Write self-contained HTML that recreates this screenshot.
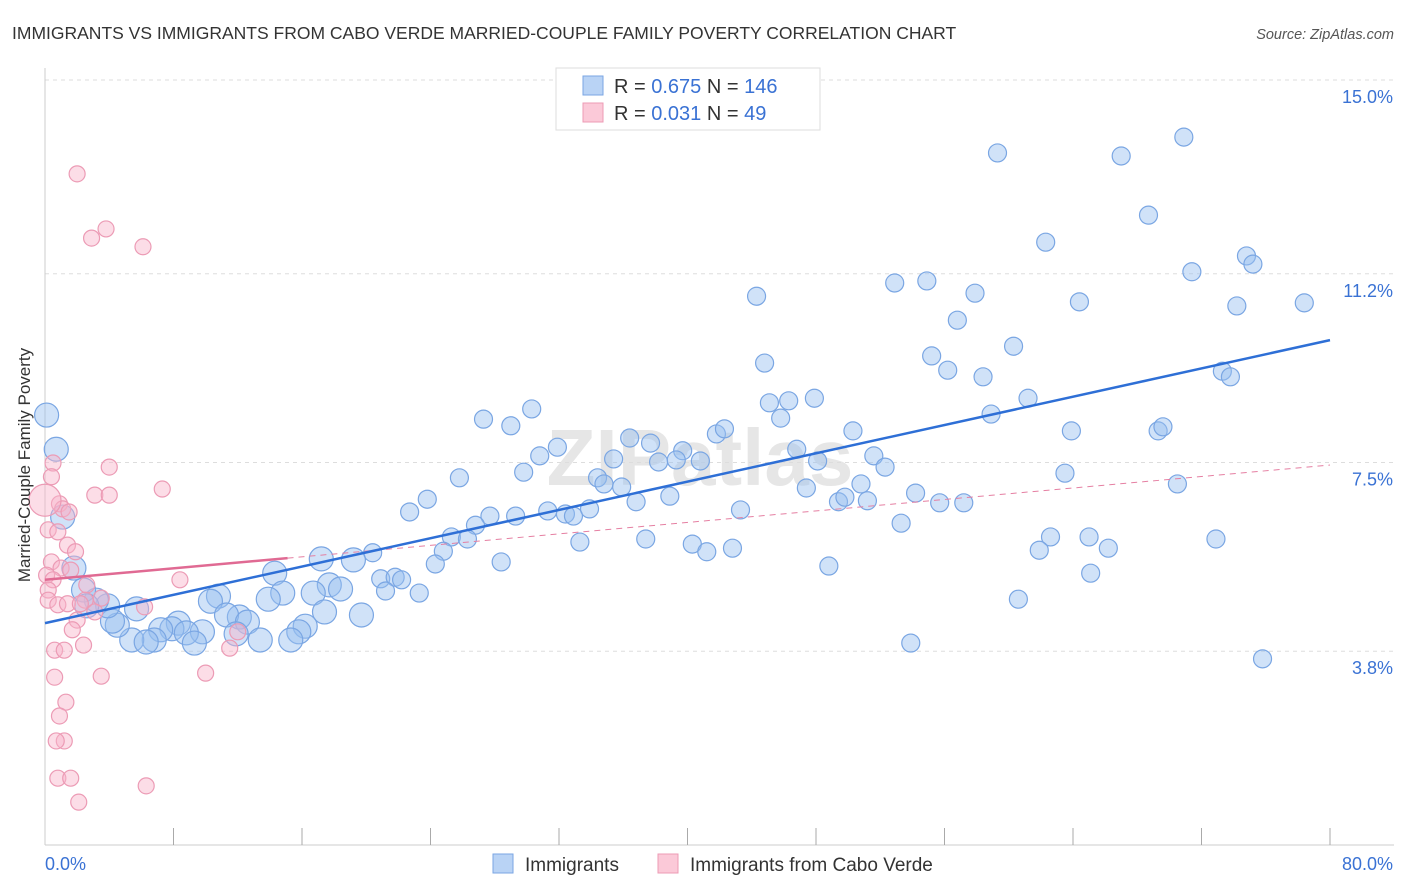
<!DOCTYPE html>
<html><head><meta charset="utf-8"><style>
body{margin:0;background:#fff;font-family:"Liberation Sans",sans-serif;}
svg{display:block}
</style></head><body>
<svg id="chart" width="1406" height="892">
<text x="12" y="39" font-size="17.5" fill="#333">IMMIGRANTS VS IMMIGRANTS FROM CABO VERDE MARRIED-COUPLE FAMILY POVERTY CORRELATION CHART</text>
<text x="1394" y="39" font-size="14.5" fill="#555" font-style="italic" text-anchor="end">Source: ZipAtlas.com</text>
<text x="700" y="485" font-size="80" fill="#e6e6e6" text-anchor="middle" font-weight="bold">ZIPatlas</text>
<g id="grid"></g>
<g id="axes"></g>
<g id="blue"></g>
<g id="pink"></g>
<g id="trends"></g>
<text x="20" y="455" font-size="17" fill="#333" transform="rotate(-90 30 455)" text-anchor="middle">Married-Couple Family Poverty</text>
<g>
<rect x="556" y="68" width="264" height="62" fill="#fff" stroke="#ddd"/>
<rect x="583" y="76" width="20" height="19" fill="#b9d3f5" stroke="#7aa6e3"/>
<rect x="583" y="103" width="20" height="19" fill="#fbc9d8" stroke="#ec9bb5"/>
<text x="614" y="93" font-size="20" fill="#333">R = <tspan fill="#3a72d4">0.675</tspan>   N = <tspan fill="#3a72d4">146</tspan></text>
<text x="614" y="120" font-size="20" fill="#333">R = <tspan fill="#3a72d4">0.031</tspan>   N = <tspan fill="#3a72d4">  49</tspan></text>
</g>
<g>
<rect x="493" y="854" width="20" height="19" fill="#b9d3f5" stroke="#7aa6e3"/>
<text x="525" y="871" font-size="19" fill="#333">Immigrants</text>
<rect x="658" y="854" width="20" height="19" fill="#fbc9d8" stroke="#ec9bb5"/>
<text x="690" y="871" font-size="19" fill="#333">Immigrants from Cabo Verde</text>
</g>
</svg>
<script>
const yTicks=[3.8,7.5,11.2,15.0];
const yTickLabels=["3.8%","7.5%","11.2%","15.0%"];
const xTickLabels=["0.0%","80.0%"];
const blueX=[59.3,67.0,70.9,68.7,62.3,71.4,74.8,75.2,52.9,54.9,57.9,44.3,64.4,74.2,78.4,56.8,60.3,55.2,44.8,56.2,58.4,73.3,73.8,45.1,46.3,47.9,45.8,61.2,58.9,27.3,30.3,29.0,36.4,41.8,42.3,50.3,63.9,69.3,69.6,31.9,37.7,39.7,46.8,30.8,35.4,38.2,39.3,40.8,48.1,51.6,52.3,29.8,25.8,34.4,63.5,34.8,35.9,47.4,50.8,70.5,23.8,38.9,54.2,36.8,49.4,49.8,51.2,55.7,57.2,22.7,31.3,32.4,32.9,27.7,29.3,33.9,43.3,26.8,53.3,25.3,26.3,33.3,37.4,72.9,40.3,62.6,65.0,61.9,66.2,41.2,42.8,24.8,24.3,28.4,20.4,19.2,17.2,48.8,65.1,14.3,20.9,21.8,22.2,17.7,18.4,16.7,21.2,23.3,14.8,13.9,10.8,10.3,60.6,17.4,19.7,12.1,11.3,12.6,16.2,15.8,15.3,13.4,11.9,9.8,8.3,7.9,8.8,9.3,7.2,6.8,5.4,6.3,4.5,4.2,5.7,3.9,3.2,2.4,2.6,1.8,0.1,0.7,1.1,53.9,75.8];
const blueY=[13.57,13.51,13.88,12.35,11.82,11.24,11.55,11.39,11.02,11.06,10.82,10.76,10.65,10.57,10.63,10.29,9.78,9.59,9.45,9.31,9.18,9.29,9.18,8.67,8.71,8.76,8.37,8.76,8.45,8.35,8.55,8.22,7.98,8.06,8.16,8.12,8.12,8.12,8.20,7.80,7.88,7.73,7.76,7.63,7.57,7.51,7.55,7.53,7.53,7.63,7.41,7.31,7.20,7.20,7.29,7.08,7.02,7.00,7.08,7.08,6.78,6.84,6.90,6.73,6.73,6.82,6.75,6.71,6.71,6.53,6.55,6.49,6.45,6.45,6.45,6.59,6.57,6.27,6.31,6.04,6.00,5.94,6.00,6.00,5.90,6.04,6.04,5.78,5.82,5.75,5.82,5.76,5.51,5.55,5.73,5.59,5.61,5.47,5.33,5.33,5.22,5.25,5.20,5.10,5.02,4.94,4.98,4.94,4.94,4.82,4.88,4.78,4.82,4.57,4.51,4.47,4.51,4.37,4.29,4.18,4.02,4.02,4.14,4.18,4.35,4.24,4.16,3.96,4.22,4.02,4.02,3.98,4.31,4.39,4.63,4.69,4.80,5.00,4.69,5.43,8.43,7.76,6.43,3.96,3.65];
const pinkX=[2.0,2.9,3.8,6.1,0.5,4.0,7.3,0.4,3.1,4.0,0.9,1.1,1.5,0.2,0.8,1.4,1.9,0.4,1.0,1.6,0.1,0.5,0.2,8.4,2.6,2.5,3.5,0.2,0.8,1.4,2.2,6.2,3.1,2.0,1.7,12.0,2.4,11.5,0.6,1.2,10.0,0.6,3.5,1.3,0.9,1.2,0.7,0.8,1.6,6.3,2.1,0.0];
const pinkY=[13.16,11.90,12.08,11.73,7.49,7.41,6.98,7.22,6.86,6.86,6.69,6.59,6.53,6.18,6.14,5.88,5.75,5.55,5.43,5.39,5.29,5.20,5.00,5.20,5.10,4.80,4.84,4.80,4.71,4.73,4.73,4.67,4.57,4.41,4.22,4.18,3.92,3.86,3.82,3.82,3.37,3.29,3.31,2.80,2.53,2.04,2.04,1.31,1.31,1.16,0.84,6.76];
const blueTrend=[4.35,9.90];
const pinkTrend=[5.20,7.45];
const pinkSolidEnd=15.1;

const NS="http://www.w3.org/2000/svg";
const X0=45,X1=1330,YB=845;
const sx=v=>X0+(v/80)*(X1-X0);
const sy=v=>80+(15-v)*51.0;
function mk(tag,attrs,parent){const e=document.createElementNS(NS,tag);for(const k in attrs)e.setAttribute(k,attrs[k]);parent.appendChild(e);return e;}
const grid=document.getElementById('grid'),axes=document.getElementById('axes');
yTicks.forEach((t,i)=>{
 const l=mk('line',{x1:X0,x2:1394,y1:sy(t),y2:sy(t),stroke:'#ddd','stroke-dasharray':'4 4'},grid);
 
 
 const tx=mk('text',{x:1393,y:sy(t)+23,'font-size':18,fill:'#3a72d4','text-anchor':'end'},axes);
 tx.textContent=yTickLabels[i];
 
 
});
const ax=mk('line',{x1:X0,x2:X0,y1:68,y2:YB,stroke:'#ccc'},axes);


const bx=mk('line',{x1:X0,x2:1394,y1:YB,y2:YB,stroke:'#ccc'},axes);


for(let i=1;i<=10;i++){
 const t=mk('line',{x1:sx(i*8),x2:sx(i*8),y1:828,y2:YB,stroke:'#aaa'},axes);
 
 
}
[[0,'start',X0],[80,'end',1393]].forEach((d,i)=>{
 const tx=mk('text',{x:d[2],y:870,'font-size':18,fill:'#3a72d4','text-anchor':d[1]},axes);
 tx.textContent=xTickLabels[i];
 
 
});
const bg=document.getElementById('blue');
blueX.forEach((x,i)=>{
 const r=x<20?12:9;
 const c=mk('circle',{cx:sx(x),cy:sy(blueY[i]),r:r,fill:'rgba(150,190,240,0.45)',stroke:'#7aa6e3','stroke-width':1.2},bg);
 
 
});
const pg=document.getElementById('pink');
pinkX.forEach((x,i)=>{
 const r=(i===pinkX.length-1)?16:8;
 const c=mk('circle',{cx:sx(x),cy:sy(pinkY[i]),r:r,fill:'rgba(248,180,202,0.45)',stroke:'#ec9bb5','stroke-width':1.2},pg);
 
 
});
const tg=document.getElementById('trends');
const pAt=v=>pinkTrend[0]+(pinkTrend[1]-pinkTrend[0])*v/80;
const pd=mk('line',{x1:sx(pinkSolidEnd),y1:sy(pAt(pinkSolidEnd)),x2:sx(80),y2:sy(pinkTrend[1]),stroke:'#e57fa2','stroke-width':1,'stroke-dasharray':'6 5'},tg);


const ps=mk('line',{x1:sx(0),y1:sy(pinkTrend[0]),x2:sx(pinkSolidEnd),y2:sy(pAt(pinkSolidEnd)),stroke:'#e06a93','stroke-width':2.5},tg);


const bl=mk('line',{x1:sx(0),y1:sy(blueTrend[0]),x2:sx(80),y2:sy(blueTrend[1]),stroke:'#2e6fd6','stroke-width':2.5},tg);


</script>
</body></html>
